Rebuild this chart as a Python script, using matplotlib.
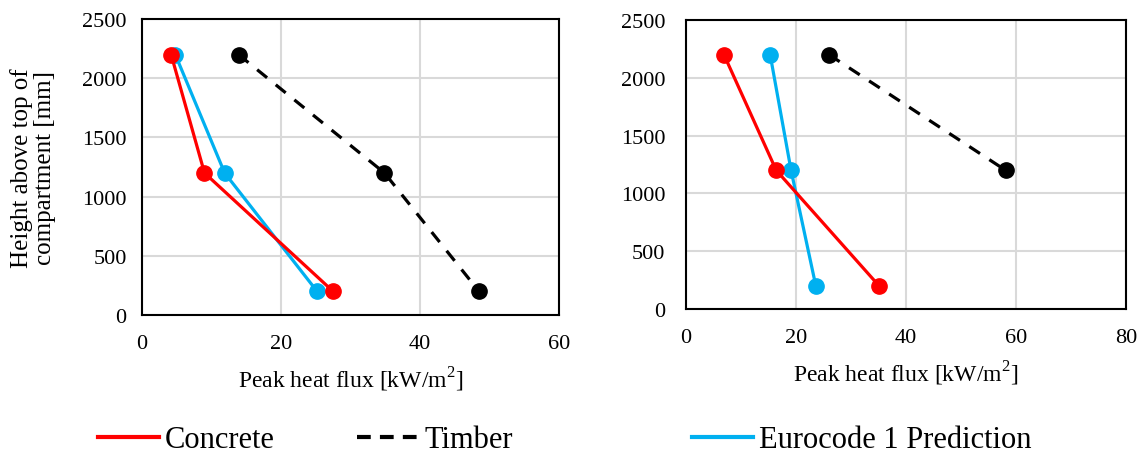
import matplotlib
matplotlib.use("Agg")
import matplotlib.pyplot as plt
from matplotlib.lines import Line2D

plt.rcParams['font.family'] = ['Liberation Serif', 'DejaVu Serif']
plt.rcParams['mathtext.fontset'] = 'custom'
plt.rcParams['mathtext.rm'] = 'Liberation Serif'

# heights above top of compartment, mm
height = [2200, 1200, 200]

# left panel
conc_a = [4.2, 9.0, 27.5]
timb_a = [13.9, 34.9, 48.5]
euro_a = [4.8, 11.9, 25.2]

# right panel (timber only two points)
conc_b = [6.9, 16.4, 35.1]
timb_b = [26.0, 58.1]
timb_b_h = [2200, 1200]
euro_b = [15.3, 19.1, 23.6]

red = '#ff0000'
blue = '#00b0f0'
black = '#000000'
grid_c = '#d9d9d9'

lw = 2.3
ms = 11
dash = (4.0, 3.5)
leg_dash = (3.3, 2.2)

fig = plt.figure(figsize=(11.42, 4.56), dpi=100)
ax1 = fig.add_axes([0.1243, 0.307, 0.3651, 0.649])
ax2 = fig.add_axes([0.6007, 0.3202, 0.3853, 0.6338])


def style(ax, xmax, ypad):
    ax.set_xlim(0, xmax)
    ax.set_ylim(0, 2500)
    ax.set_xticks(range(0, xmax + 1, 20))
    ax.set_yticks(range(0, 2501, 500))
    ax.grid(True, color=grid_c, lw=1.5)
    ax.set_axisbelow(True)
    for s in ax.spines.values():
        s.set_linewidth(1.5)
        s.set_color('black')
    ax.tick_params(axis='x', length=0, pad=14, labelsize=16)
    ax.tick_params(axis='y', length=0, pad=ypad, labelsize=16)
    ax.set_xlabel(r'Peak heat flux [kW/m$^{\mathrm{2}}$]', fontsize=17, labelpad=8)


ax1.plot(euro_a, height, color=blue, lw=lw, marker='o', ms=ms)
ax1.plot(conc_a, height, color=red, lw=lw, marker='o', ms=ms)
ax1.plot(timb_a, height, color=black, lw=lw, marker='o', ms=ms, dashes=dash)
style(ax1, 60, 11)

ax2.plot(euro_b, height, color=blue, lw=lw, marker='o', ms=ms)
ax2.plot(conc_b, height, color=red, lw=lw, marker='o', ms=ms)
ax2.plot(timb_b, timb_b_h, color=black, lw=lw, marker='o', ms=ms, dashes=dash)
style(ax2, 80, 15)

fig.text(33 / 1142, 1 - 168 / 456, 'Height above top of\ncompartment [mm]',
         rotation=90, ha='center', va='center', fontsize=18, linespacing=1.1)

# legend entries placed like the original (uneven spacing)
entries = [('Concrete', red, None, 98),
           ('Timber', black, leg_dash, 357),
           ('Eurocode 1 Prediction', blue, None, 692)]
for name, col, ds, xp in entries:
    h = Line2D([], [], color=col, lw=3)
    if ds is not None:
        h.set_dashes(ds)
    fig.legend([h], [name], loc='center left', bbox_to_anchor=(xp / 1142, 0.033),
               frameon=False, fontsize=22, handlelength=2.0, handletextpad=0.2,
               borderpad=0, borderaxespad=0)

fig.savefig('out.png', dpi=100)
